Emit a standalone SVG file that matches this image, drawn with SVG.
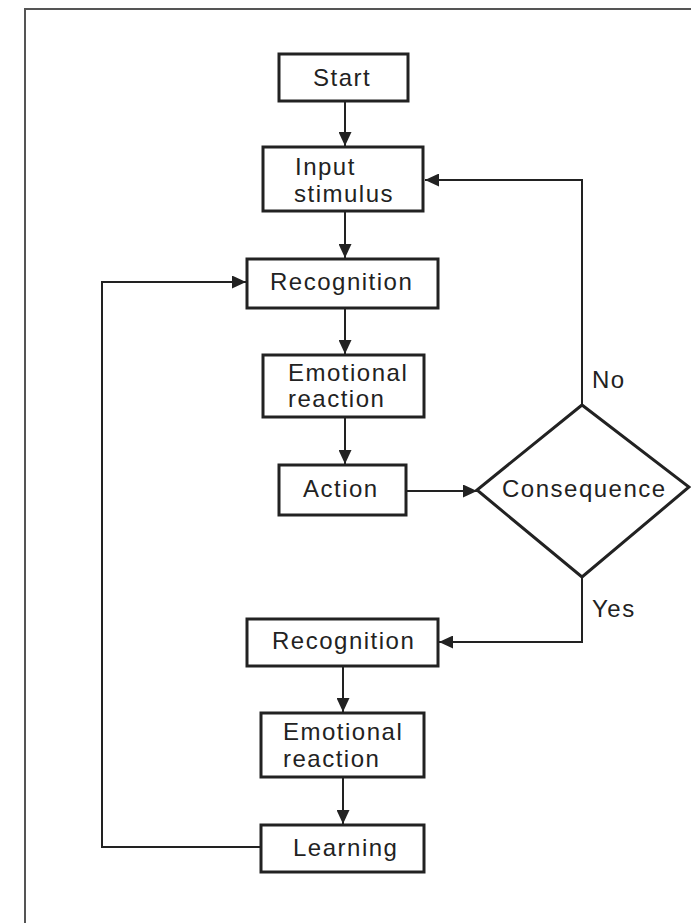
<svg xmlns="http://www.w3.org/2000/svg" width="691" height="923" viewBox="0 0 691 923">
<style>
.box{fill:#fff;stroke:#222;stroke-width:3}
.dia{fill:#fff;stroke:#222;stroke-width:3;stroke-linejoin:miter}
.lbl{font-family:"Liberation Sans",Arial,sans-serif;font-size:24px;letter-spacing:1.5px;fill:#222}
.con{fill:none;stroke:#222;stroke-width:2}
.frame{fill:none;stroke:#555;stroke-width:2}
</style>
<defs>
<marker id="ah" viewBox="0 0 14 13" refX="14" refY="6.5" markerWidth="14" markerHeight="13" markerUnits="userSpaceOnUse" orient="auto">
<path d="M0,0 L14,6.5 L0,13 Z" fill="#222"/>
</marker>
</defs>
<rect width="691" height="923" fill="#fff"/>
<path class="frame" d="M25,923 V9 H691"/>
<g id="connectors">
<line class="con" x1="345" y1="101" x2="345" y2="146" marker-end="url(#ah)"/>
<line class="con" x1="345" y1="211" x2="345" y2="258" marker-end="url(#ah)"/>
<line class="con" x1="345" y1="308" x2="345" y2="354" marker-end="url(#ah)"/>
<line class="con" x1="345" y1="417" x2="345" y2="464" marker-end="url(#ah)"/>
<line class="con" x1="406" y1="491" x2="477" y2="491" marker-end="url(#ah)"/>
<polyline class="con" points="582,405 582,180 425,180" marker-end="url(#ah)"/>
<polyline class="con" points="582,577 582,642 439,642" marker-end="url(#ah)"/>
<line class="con" x1="343" y1="666" x2="343" y2="712" marker-end="url(#ah)"/>
<line class="con" x1="343" y1="777" x2="343" y2="824" marker-end="url(#ah)"/>
<polyline class="con" points="261,847 102,847 102,282 246,282" marker-end="url(#ah)"/>
<text class="lbl" x="592" y="388">No</text>
<text class="lbl" x="592" y="617">Yes</text>
</g>
<g id="start">
<rect class="box" x="279" y="54" width="129" height="47"/>
<text class="lbl" x="313" y="86">Start</text>
</g>
<g id="input">
<rect class="box" x="263" y="147" width="160" height="64"/>
<text class="lbl" x="295" y="175">Input</text>
<text class="lbl" x="294" y="202">stimulus</text>
</g>
<g id="recognition1">
<rect class="box" x="247" y="259" width="191" height="49"/>
<text class="lbl" x="270" y="290">Recognition</text>
</g>
<g id="emotional1">
<rect class="box" x="263" y="355" width="161" height="62"/>
<text class="lbl" x="288" y="381">Emotional</text>
<text class="lbl" x="288" y="407">reaction</text>
</g>
<g id="action">
<rect class="box" x="279" y="465" width="127" height="50"/>
<text class="lbl" x="303" y="497">Action</text>
</g>
<g id="consequence">
<polygon class="dia" points="582,405 689,487 582,577 477,490"/>
<text class="lbl" x="502" y="497">Consequence</text>
</g>
<g id="recognition2">
<rect class="box" x="247" y="619" width="191" height="47"/>
<text class="lbl" x="272" y="649">Recognition</text>
</g>
<g id="emotional2">
<rect class="box" x="261" y="713" width="163" height="64"/>
<text class="lbl" x="283" y="740">Emotional</text>
<text class="lbl" x="283" y="767">reaction</text>
</g>
<g id="learning">
<rect class="box" x="261" y="825" width="163" height="47"/>
<text class="lbl" x="293" y="856">Learning</text>
</g>
</svg>
